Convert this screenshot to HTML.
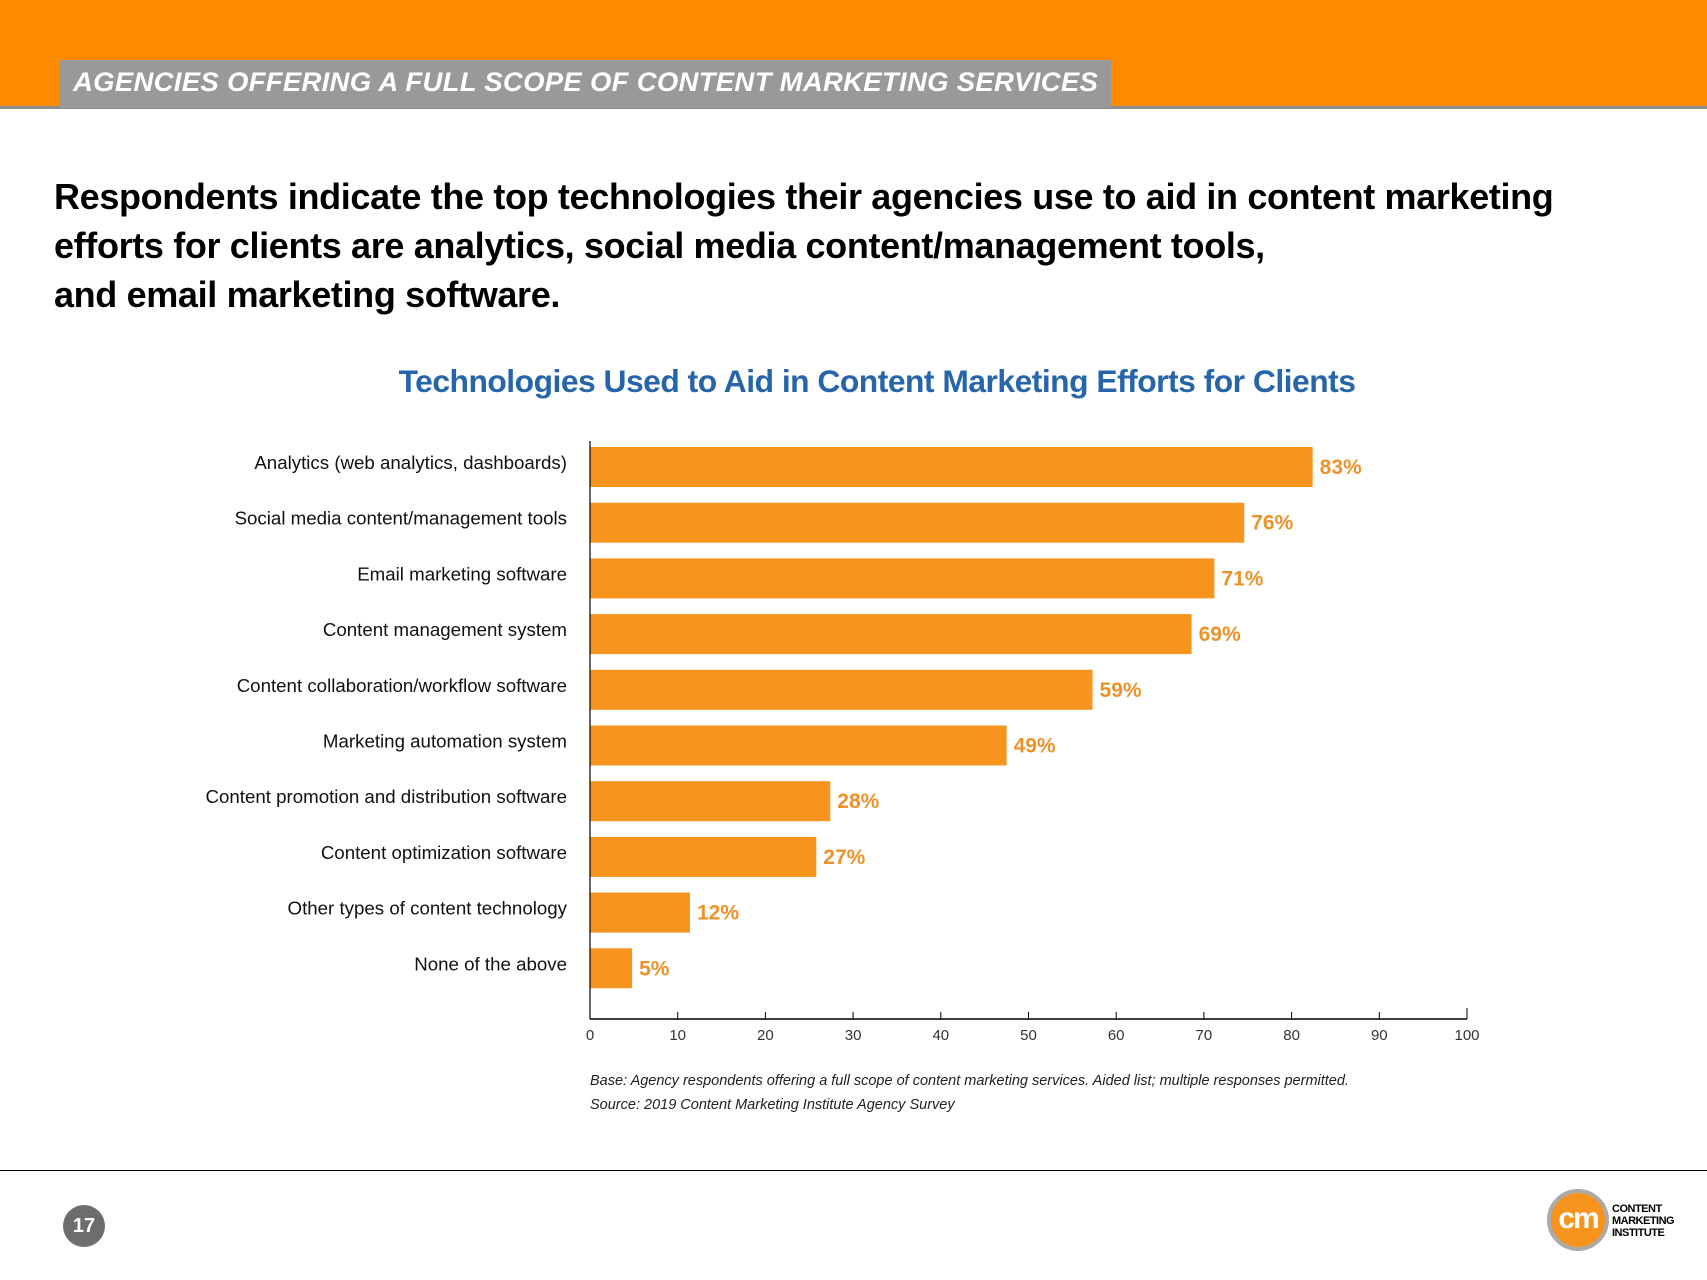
<!DOCTYPE html>
<html><head><meta charset="utf-8">
<style>
body{margin:0;width:1707px;height:1280px;background:#fff;position:relative;overflow:hidden;font-family:"Liberation Sans",sans-serif;}
.abs{position:absolute;}
</style></head>
<body>
<div class="abs" style="left:0;top:0;width:1707px;height:106px;background:#ff8c00;"></div>
<div class="abs" style="left:0;top:106px;width:1707px;height:3px;background:#8c8c8c;"></div>
<div class="abs" style="left:59px;top:60px;width:1052px;height:48px;background:#999;"></div>
<div class="abs" style="left:73px;top:67px;color:#fff;font-weight:bold;font-style:italic;font-size:27px;letter-spacing:0.3px;white-space:nowrap;transform:scaleX(1.018);transform-origin:left;">AGENCIES OFFERING A FULL SCOPE OF CONTENT MARKETING SERVICES</div>
<div class="abs" style="left:54px;top:172px;font-size:36px;font-weight:bold;line-height:49px;color:#000;white-space:nowrap;letter-spacing:-0.35px;">Respondents indicate the top technologies their agencies use to aid in content marketing<br>efforts for clients are analytics, social media content/management tools,<br>and email marketing software.</div>
<div class="abs" style="left:0;width:1754px;top:363px;text-align:center;font-size:31.8px;font-weight:bold;color:#2765aa;letter-spacing:-0.5px;">Technologies Used to Aid in Content Marketing Efforts for Clients</div>
<svg class="abs" style="left:0;top:0" width="1707" height="1280">
<g id="g"></g>
</svg>
<div class="abs" style="left:590px;top:1073px;font-size:14.5px;font-style:italic;color:#222;">Base: Agency respondents offering a full scope of content marketing services. Aided list; multiple responses permitted.</div>
<div class="abs" style="left:590px;top:1097px;font-size:14.5px;font-style:italic;color:#222;">Source: 2019 Content Marketing Institute Agency Survey</div>
<div class="abs" style="left:0;top:1170px;width:1707px;height:1px;background:#000;"></div>
<div class="abs" style="left:63px;top:1205px;width:42px;height:42px;border-radius:50%;background:#6d6d6d;color:#fff;font-weight:bold;font-size:20px;line-height:42px;text-align:center;">17</div>
<div class="abs" style="left:1547px;top:1189px;width:54px;height:54px;border-radius:50%;background:#f7941d;border:4px solid #aaa;color:#fff;font-weight:bold;font-size:30px;line-height:52px;text-align:center;letter-spacing:-2px;">cm</div>
<div class="abs" style="left:1612px;top:1203px;font-weight:bold;font-size:11px;line-height:12px;color:#000;letter-spacing:-0.5px;">CONTENT<br>MARKETING<br>INSTITUTE</div>
<script>
const categories=["Analytics (web analytics, dashboards)","Social media content/management tools","Email marketing software","Content management system","Content collaboration/workflow software","Marketing automation system","Content promotion and distribution software","Content optimization software","Other types of content technology","None of the above"];
const values=[82.4,74.6,71.2,68.6,57.3,47.5,27.4,25.8,11.4,4.8];
const valueLabels=["83%","76%","71%","69%","59%","49%","28%","27%","12%","5%"];
const tickLabels=[0,10,20,30,40,50,60,70,80,90,100];
const NS="http://www.w3.org/2000/svg";
const g=document.getElementById('g');
const x0=590,x1=1467,yAxis=1019,top0=447,pitch=55.7,bh=40;
const xs=v=>x0+(x1-x0)*v/100;
function mk(t,a){const e=document.createElementNS(NS,t);for(const k in a)e.setAttribute(k,a[k]);g.appendChild(e);return e;}
values.forEach((v,i)=>{
  const y=top0+i*pitch;
  const r=mk('rect',{x:x0,y:y,width:xs(v)-x0,height:bh,fill:'#f7941d'});
  
  
  const t=mk('text',{x:xs(v)+7,y:y+bh/2+7,fill:'#eb932a','font-size':21,'font-weight':'bold','font-family':'Liberation Sans, sans-serif'});
  t.textContent=valueLabels[i];
  
  
  const c=mk('text',{x:567,y:y+bh/2+2,'text-anchor':'end',fill:'#111','font-size':18.7,'font-family':'Liberation Sans, sans-serif'});
  c.textContent=categories[i];
  
  
});
const ya=mk('line',{x1:x0,y1:441,x2:x0,y2:yAxis,stroke:'#000','stroke-width':1.2});


const xa=mk('line',{x1:x0,y1:yAxis,x2:x1,y2:yAxis,stroke:'#000','stroke-width':1.5});


tickLabels.forEach((v,i)=>{
  const x=xs(v);
  const tk=mk('line',{x1:x,y1:yAxis-(v===100?11:7),x2:x,y2:yAxis,stroke:'#000','stroke-width':1});
  
  
  const t=mk('text',{x:x,y:yAxis+21,'text-anchor':'middle',fill:'#333','font-size':15,'font-family':'Liberation Sans, sans-serif'});
  t.textContent=v;
  
  
});
</script>
</body></html>
